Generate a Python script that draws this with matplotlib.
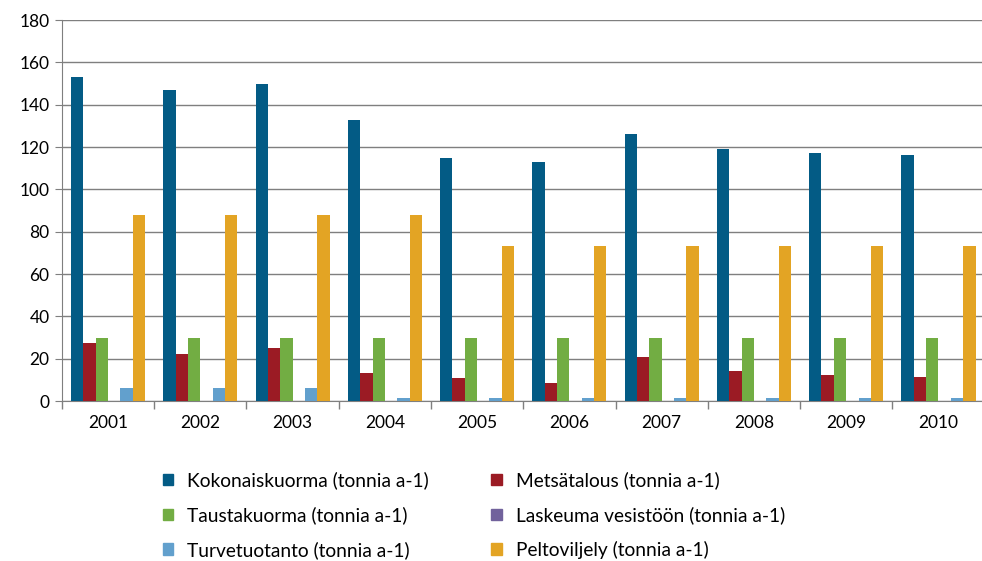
import numpy as np
import matplotlib.pyplot as plt
from matplotlib.patches import Patch

plt.rcParams['font.family'] = ['Lato', 'DejaVu Sans']

years = ['2001', '2002', '2003', '2004', '2005', '2006', '2007', '2008', '2009', '2010']
kokonais = [153, 147, 150, 133, 115, 113, 126, 119, 117, 116]
metsa = [27.5, 22, 25, 13, 11, 8.5, 21, 14, 12.5, 11.5]
tausta = [30, 30, 30, 30, 30, 30, 30, 30, 30, 30]
laskeuma = [0, 0, 0, 0, 0, 0, 0, 0, 0, 0]
turve = [6.2, 6.2, 6.2, 1.3, 1.3, 1.3, 1.3, 1.3, 1.3, 1.3]
pelto = [88, 88, 88, 88, 73, 73, 73, 73, 73, 73]

series = [
    ('Kokonaiskuorma (tonnia a-1)', kokonais, '#035b85'),
    ('Metsätalous (tonnia a-1)', metsa, '#9b1b24'),
    ('Taustakuorma (tonnia a-1)', tausta, '#72ad43'),
    ('Laskeuma vesistöön (tonnia a-1)', laskeuma, '#71629c'),
    ('Turvetuotanto (tonnia a-1)', turve, '#62a0cd'),
    ('Peltoviljely (tonnia a-1)', pelto, '#e3a424'),
]

fig = plt.figure(figsize=(9.82, 5.61), dpi=100)
ax = fig.add_axes([0.0631, 0.2852, 0.9395, 0.6791])

x = np.arange(len(years))
w = 0.134
for i, (name, vals, col) in enumerate(series):
    ax.bar(x - 2.5 * w + i * w, vals, width=w, color=col, zorder=3)

ax.set_xlim(-0.5, len(years) - 0.5)
ax.set_ylim(0, 180)
ax.set_yticks(range(0, 181, 20))
ax.yaxis.grid(True, color='#7f7f7f', linewidth=1, zorder=0)
ax.set_xticks(x)
ax.set_xticklabels(years)
ax.set_xticks(np.arange(-0.5, len(years), 1), minor=True)
ax.tick_params(axis='x', which='major', length=0, pad=10, labelsize=12.5)
ax.tick_params(axis='x', which='minor', length=6, color='#7f7f7f', width=1)
ax.tick_params(axis='y', length=5, color='#7f7f7f', labelsize=12.5, pad=4)
for s in ['top', 'right']:
    ax.spines[s].set_visible(False)
for s in ['left', 'bottom']:
    ax.spines[s].set_color('#7f7f7f')

order = [0, 2, 4, 1, 3, 5]
handles = [Patch(color=series[i][2]) for i in order]
labels = [series[i][0] for i in order]
fig.legend(handles, labels, ncol=2, loc='upper left', bbox_to_anchor=(0.156, 0.177),
           frameon=False, fontsize=13.8, handlelength=0.53, handleheight=0.53,
           handletextpad=0.75, columnspacing=3.25, labelspacing=0.88, borderpad=0)

fig.savefig('out.png', dpi=100)
